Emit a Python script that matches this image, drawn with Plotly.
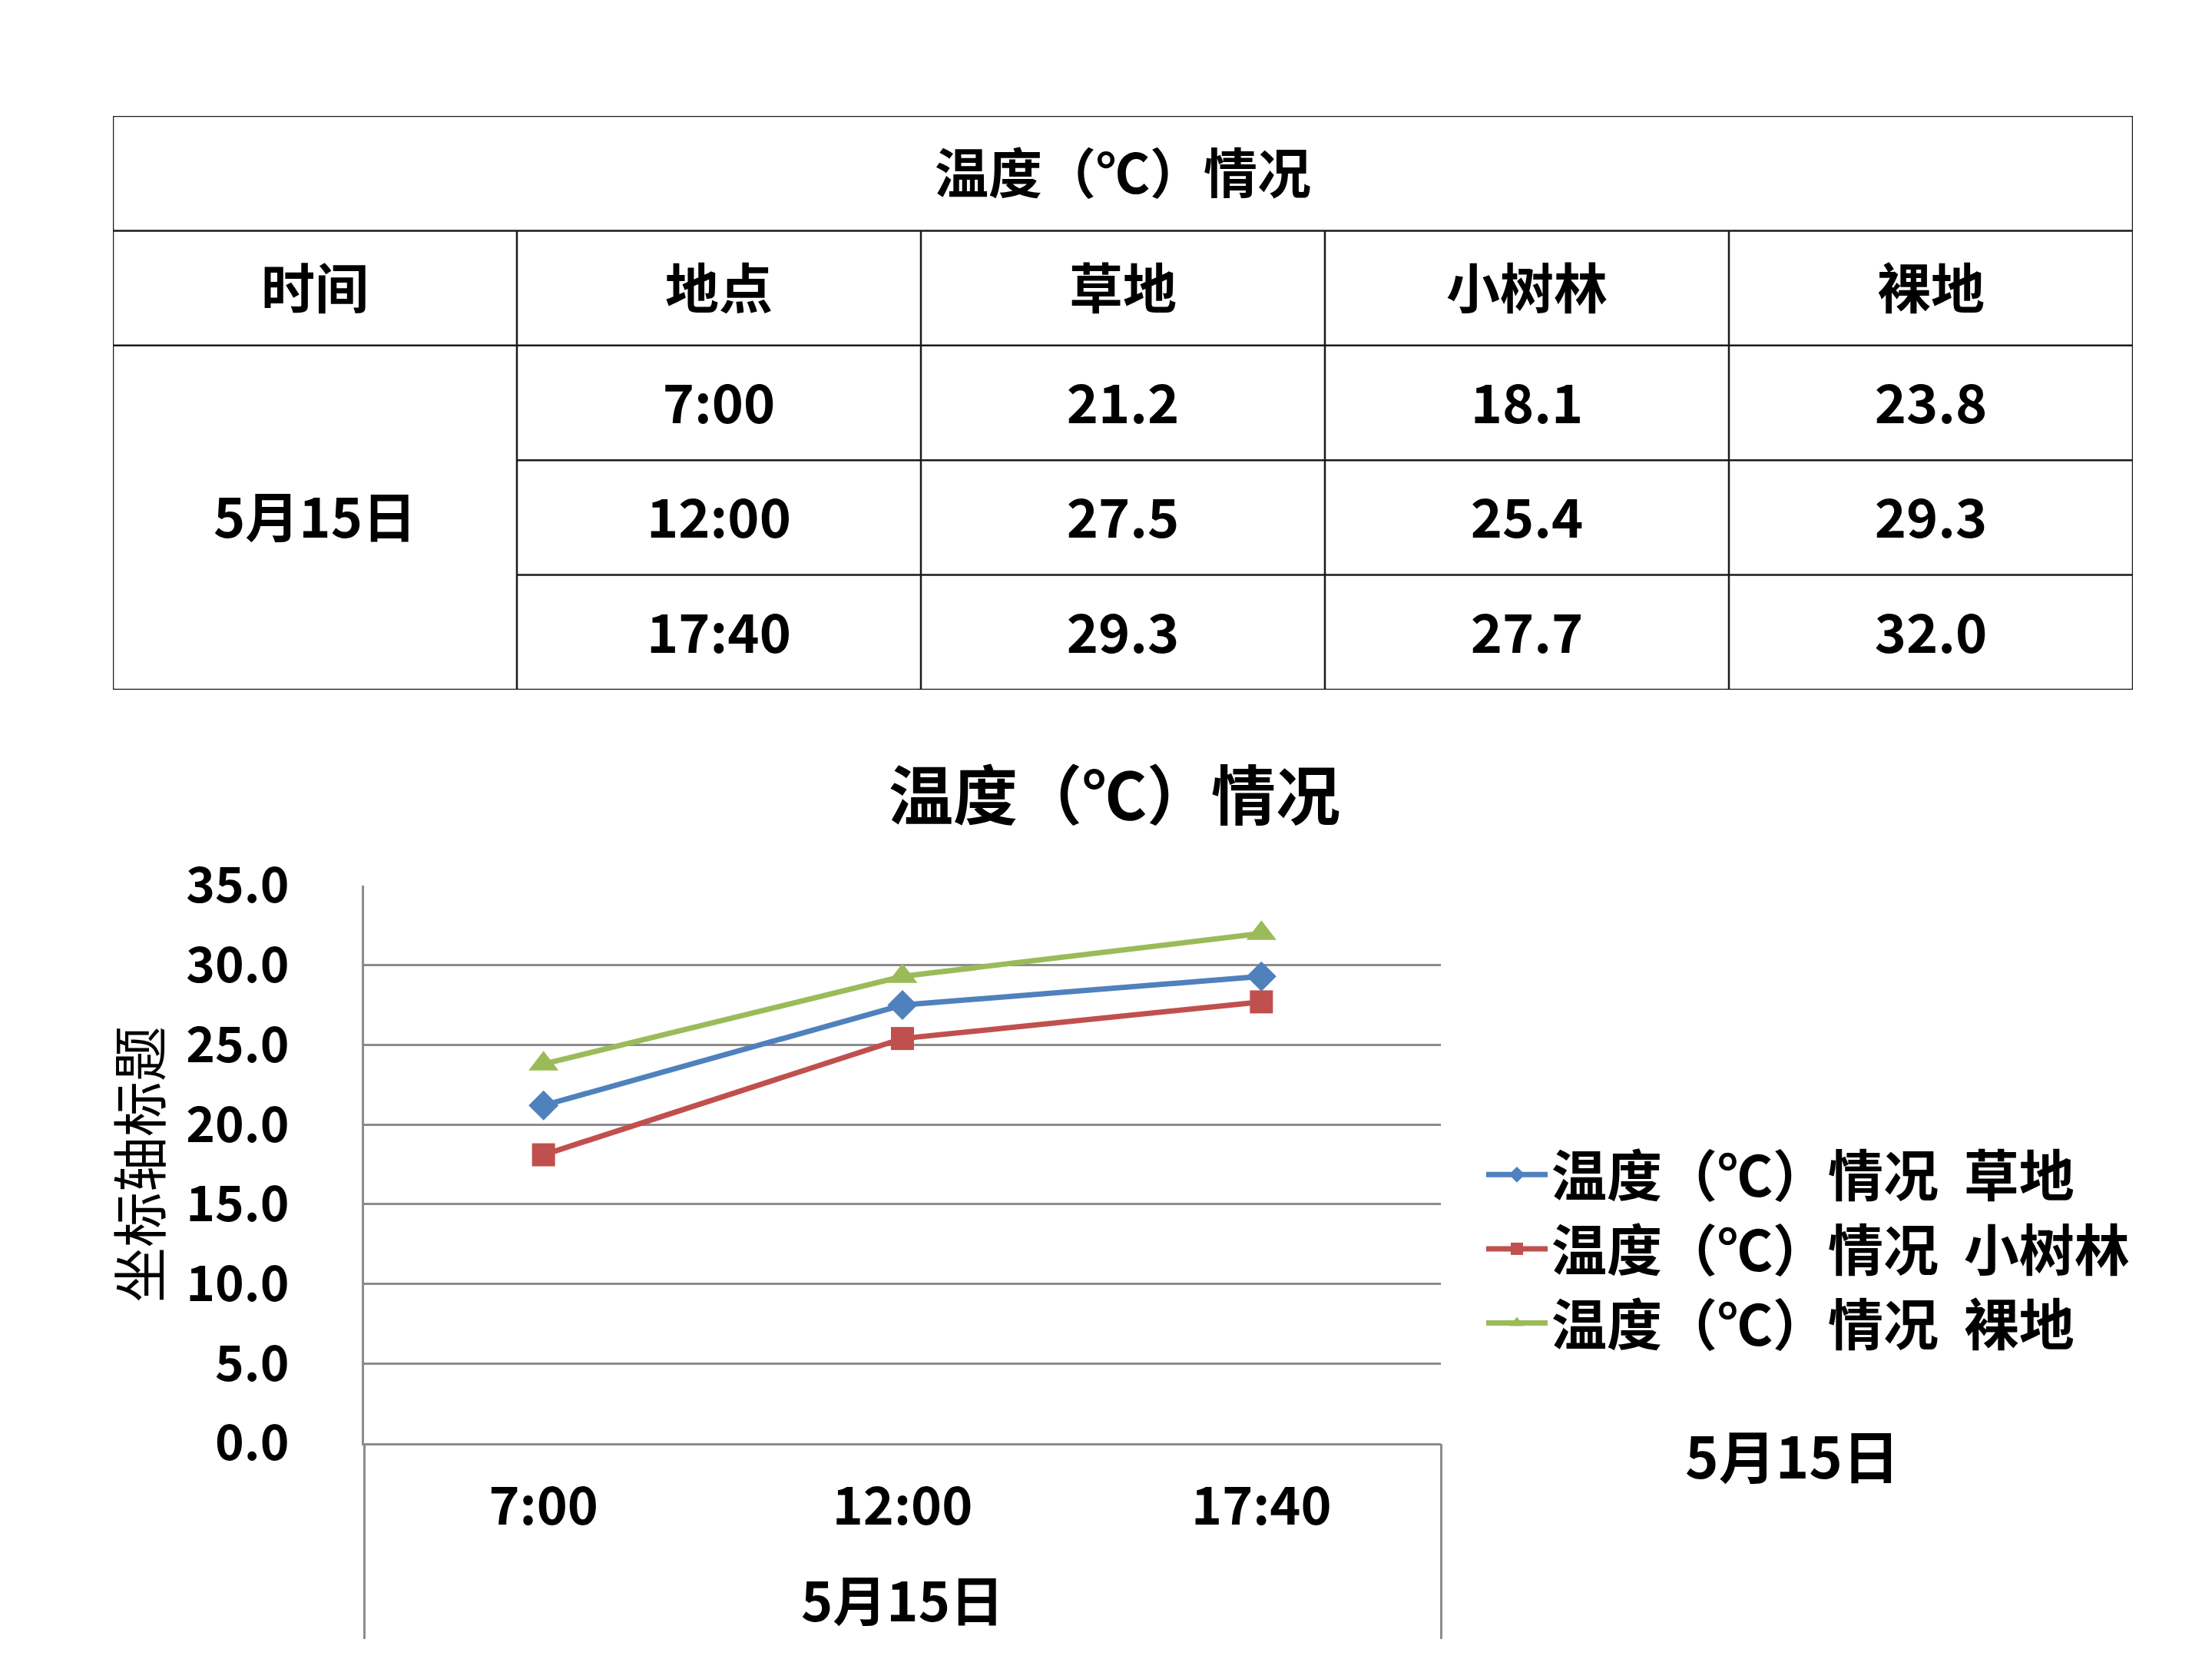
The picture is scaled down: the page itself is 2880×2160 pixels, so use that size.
import plotly.graph_objects as go

# ---------------- data ----------------
chart_title = "温度（℃）情况"
date_label = "5月15日"
times = ["7:00", "12:00", "17:40"]
sites = ["草地", "小树林", "裸地"]
header_labels = ["时间", "地点", "草地", "小树林", "裸地"]
grass = [21.2, 27.5, 29.3]
grove = [18.1, 25.4, 27.7]
bare = [23.8, 29.3, 32.0]
y_axis_title = "坐标轴标题"
y_ticks = [0, 5, 10, 15, 20, 25, 30, 35]

series_values = [grass, grove, bare]

# ---------------- styles ----------------
FONT = "Noto Sans CJK SC"
colors = ["#4F81BD", "#C0504D", "#9BBB59"]
symbols = ["diamond", "square", "triangle-up"]
msizes = [30, 30, 34]
GRID = "#8C8C8C"
W, H = 2880, 2160
TXT_DY = 0.06  # optical vertical centring of CJK text inside table cells

fig = go.Figure()

# ---------------- line chart ----------------
for name, vals, col, sym, ms in zip(sites, series_values, colors, symbols, msizes):
    fig.add_trace(go.Scatter(
        x=times, y=vals, mode="lines+markers",
        name=f"{chart_title}\u00a0\u00a0{name}", legendgroup=name,
        line=dict(color=col, width=7),
        marker=dict(symbol=sym, size=ms, color=col),
        xaxis="x", yaxis="y",
    ))

xr = [-0.5, len(times) - 0.5]
# anchor trace for the group-level axis (draws nothing)
fig.add_trace(go.Scatter(x=[(len(times) - 1) / 2], y=[0], mode="none",
                         showlegend=False, hoverinfo="skip", xaxis="x3", yaxis="y"))

# ---------------- table (drawn on its own axes) ----------------
ncol, nrow = 5, 5
tx, ty, tt = [], [], []
tx.append(ncol / 2); ty.append(0.5); tt.append(chart_title)
for c, lab in enumerate(header_labels):
    tx.append(c + 0.5); ty.append(1.5); tt.append(lab)
tx.append(0.5); ty.append(2 + len(times) / 2); tt.append(date_label)
for r, t in enumerate(times):
    tx.append(1.5); ty.append(2.5 + r); tt.append(t)
    for s, vals in enumerate(series_values):
        tx.append(2.5 + s); ty.append(2.5 + r); tt.append(f"{vals[r]:.1f}")
ty = [v + TXT_DY for v in ty]

fig.add_trace(go.Scatter(
    x=tx, y=ty, text=tt, mode="text", textposition="middle center",
    textfont=dict(family=FONT, size=70, color="black", weight="bold"),
    showlegend=False, hoverinfo="skip", xaxis="x2", yaxis="y2",
))

LW = 2.5
LC = "#1a1a1a"
def tline(x0, y0, x1, y1):
    fig.add_shape(type="line", x0=x0, y0=y0, x1=x1, y1=y1, xref="x2", yref="y2",
                  line=dict(color=LC, width=LW))

fig.add_shape(type="rect", x0=0, y0=0, x1=ncol, y1=nrow, xref="x2", yref="y2",
              line=dict(color=LC, width=LW))
tline(0, 1, ncol, 1)
tline(0, 2, ncol, 2)
for r in range(3, nrow):
    tline(1, r, ncol, r)
for c in range(1, ncol):
    tline(c, 1, c, nrow)

# ---------------- layout ----------------
xdom = [474 / W, 1876 / W]
fig.update_layout(
    width=W, height=H,
    margin=dict(l=0, r=0, t=0, b=0, autoexpand=False),
    paper_bgcolor="white", plot_bgcolor="white",
    font=dict(family=FONT, color="black"),
    title=dict(text=f"<b>{chart_title}</b>", x=1451 / W, y=1 - 1038 / H,
               xanchor="center", yanchor="middle", automargin=False,
               font=dict(family=FONT, size=84, color="black")),
    xaxis=dict(
        type="category", domain=xdom, anchor="y", range=xr,
        showline=True, linecolor=GRID, linewidth=2.5,
        showgrid=False, ticks="", automargin=False,
        tickfont=dict(family=FONT, size=68, color="black", weight="bold"),
        ticklabelstandoff=22,
    ),
    # group-level category axis ("5月15日") with divider ticks at the group edges
    xaxis3=dict(
        type="linear", domain=xdom, anchor="y", overlaying="x", side="bottom",
        range=xr, showline=False, showgrid=False, zeroline=False,
        tickmode="array", tickvals=[(len(times) - 1) / 2], ticktext=[f"<b>{date_label}</b>"],
        ticks="", ticklabelstandoff=161, automargin=False,
        tickfont=dict(family=FONT, size=70, color="black"),
        minor=dict(tickmode="array", tickvals=list(xr), ticks="outside",
                   ticklen=254, tickwidth=2.5, tickcolor=GRID, showgrid=False),
    ),
    yaxis=dict(
        domain=[1 - 1879 / H, 1 - 1153 / H], anchor="x",
        range=[0, 35], tickvals=y_ticks, tickformat=".1f",
        showline=True, linecolor=GRID, linewidth=2.5,
        showgrid=True, gridcolor=GRID, gridwidth=2.5,
        zeroline=False, ticks="", automargin=False,
        tickfont=dict(family=FONT, size=64, color="black", weight="bold"),
        ticklabelstandoff=82,
        title=dict(text=y_axis_title, standoff=10,
                   font=dict(family=FONT, size=72, color="black")),
    ),
    xaxis2=dict(domain=[147 / W, 2777 / W], range=[0, ncol], visible=False,
                anchor="y2", fixedrange=True, automargin=False),
    yaxis2=dict(domain=[1 - 898 / H, 1 - 151 / H], range=[nrow, 0], visible=False,
                anchor="x2", fixedrange=True, automargin=False),
    legend=dict(
        x=1930 / W, y=1 - 1476 / H, xanchor="left", yanchor="top",
        font=dict(family=FONT, size=72, color="black", weight="bold"),
        traceorder="grouped", tracegroupgap=0, itemwidth=80,
        bgcolor="rgba(0,0,0,0)",
    ),
    showlegend=True,
)

fig.add_annotation(
    text=f"<b>{date_label}</b>", x=2333 / W, y=1 - 1892 / H, xref="paper", yref="paper",
    showarrow=False, xanchor="center", yanchor="middle",
    font=dict(family=FONT, size=74, color="black"),
)

fig.write_html("out.html")
